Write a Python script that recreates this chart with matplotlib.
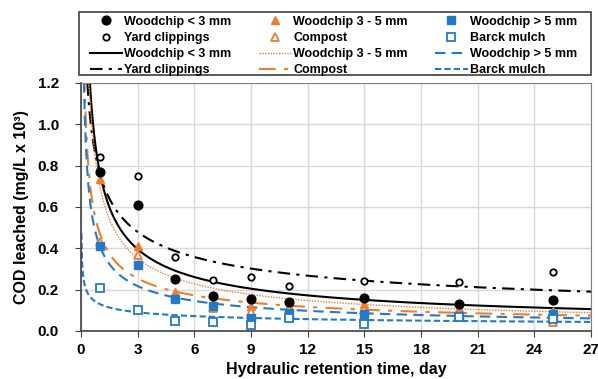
import numpy as np
import matplotlib
matplotlib.use('Agg')
import matplotlib.pyplot as plt
from matplotlib.patches import Rectangle

plt.rcParams['font.family'] = ['Liberation Sans', 'DejaVu Sans']
plt.rcParams['font.weight'] = 'bold'

# measured data
hrt = [1, 3, 5, 7, 9, 11, 15, 20, 25]
wc_lt3 = [0.77, 0.61, 0.25, 0.17, 0.155, 0.14, 0.16, 0.13, 0.15]
yard = [0.84, 0.75, 0.36, 0.245, 0.26, 0.22, 0.24, 0.235, 0.285]
wc_3_5 = [0.735, 0.41, 0.19, 0.135, 0.12, 0.12, 0.13, 0.11, 0.095]
compost = [0.43, 0.37, 0.165, 0.11, 0.093, 0.105, 0.10, 0.085, 0.045]
wc_gt5 = [0.41, 0.32, 0.155, 0.12, 0.065, 0.085, 0.08, 0.075, 0.08]
barck = [0.21, 0.10, 0.05, 0.045, 0.028, 0.065, 0.035, 0.07, 0.06]

# power trendlines y = a * x^-b (coefficients)
names = ['Woodchip < 3 mm', 'Yard clippings', 'Woodchip 3 - 5 mm', 'Compost',
         'Woodchip > 5 mm', 'Barck mulch']
fit_a = [0.765, 0.76, 0.70, 0.47, 0.41, 0.13]
fit_b = [0.60, 0.42, 0.627, 0.56, 0.578, 0.33]

orange = '#ED7D31'
blue = '#2479C6'

fig = plt.figure(figsize=(5.98, 3.79), dpi=100)
ax = fig.add_axes([81/598, 1-331/379, 510/598, 248/379])

xs = np.linspace(0.02, 27, 800)
line_styles = [
    dict(color='black', ls='-', lw=1.5),
    dict(color='black', ls=(0, (6, 3, 1.5, 3)), lw=1.5),
    dict(color=orange, ls=(0, (1, 1)), lw=1.0),
    dict(color=orange, ls=(0, (8, 4, 2, 4)), lw=1.5),
    dict(color=blue, ls=(0, (5, 3)), lw=1.5),
    dict(color=blue, ls=(0, (3, 1.5)), lw=1.5),
]
line_handles = []
for name, a, b, st in zip(names, fit_a, fit_b, line_styles):
    h, = ax.plot(xs, a * xs ** (-b), label=name, zorder=2, **st)
    line_handles.append(h)

pt = []
pt.append(ax.plot(hrt, wc_lt3, 'o', ms=6.3, color='black', ls='none', label='Woodchip < 3 mm', zorder=4)[0])
pt.append(ax.plot(hrt, yard, 'o', ms=4.6, mfc='white', mec='black', mew=1.3, ls='none', label='Yard clippings', zorder=4)[0])
pt.append(ax.plot(hrt, wc_3_5, '^', ms=6.3, color=orange, ls='none', label='Woodchip 3 - 5 mm', zorder=3)[0])
pt.append(ax.plot(hrt, compost, '^', ms=5.8, mfc='white', mec=orange, mew=1.3, ls='none', label='Compost', zorder=3)[0])
pt.append(ax.plot(hrt, wc_gt5, 's', ms=5.6, color=blue, ls='none', label='Woodchip > 5 mm', zorder=3)[0])
pt.append(ax.plot(hrt, barck, 's', ms=5.4, mfc='white', mec=blue, mew=1.3, ls='none', label='Barck mulch', zorder=3)[0])

ax.set_xlim(0, 27)
ax.set_ylim(0, 1.2)
ax.set_xticks(np.arange(0, 28, 3))
ax.set_yticks(np.arange(0, 1.21, 0.2))
ax.set_yticklabels(['%.1f' % v for v in np.arange(0, 1.21, 0.2)])
ax.grid(True, color='#d9d9d9', lw=1)
ax.set_axisbelow(True)
for s in ['top', 'right']:
    ax.spines[s].set_color('#808080')
for s in ['left', 'bottom']:
    ax.spines[s].set_color('#404040')
    ax.spines[s].set_linewidth(1.2)
ax.tick_params(direction='out', length=4, color='#404040', labelsize=11)
ax.tick_params(axis='y', pad=12)
ax.tick_params(axis='x', pad=5)
ax.set_xlabel('Hydraulic retention time, day', fontsize=11.5, fontweight='bold', labelpad=3)
ax.set_ylabel('COD leached (mg/L x 10³)', fontsize=11.5, fontweight='bold', labelpad=6)

handles = [pt[0], pt[1], line_handles[0], line_handles[1],
           pt[2], pt[3], line_handles[2], line_handles[3],
           pt[4], pt[5], line_handles[4], line_handles[5]]
leg = fig.legend(handles=handles, labels=[h.get_label() for h in handles],
                 ncol=3, loc='upper left',
                 bbox_to_anchor=(86/598, 1-12/379),
                 fontsize=9, frameon=False,
                 handlelength=2.6, handletextpad=0.15, labelspacing=0.33,
                 borderpad=0.3, columnspacing=2.2, borderaxespad=0)
# legend box
fig.patches.append(Rectangle((79/598, 1-75/379), 512/598, 63/379, transform=fig.transFigure,
                             fill=False, edgecolor='#404040', lw=1.2))

plt.savefig('out.png', dpi=100)
